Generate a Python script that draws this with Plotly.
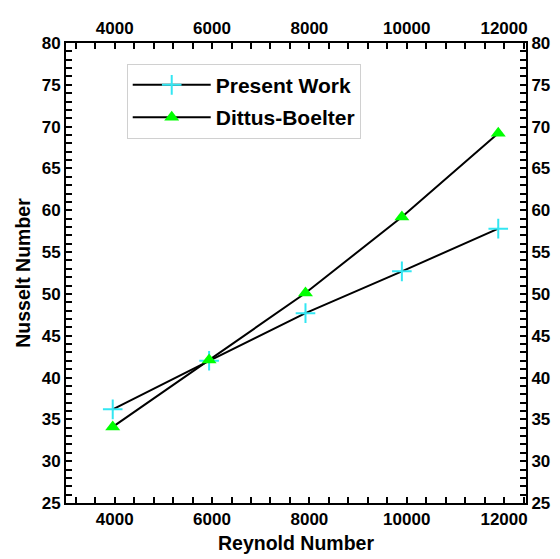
import plotly.graph_objects as go

reynolds_pw = [3960, 5940, 7920, 9900, 11880]
nusselt_pw = [36.2, 42.0, 47.7, 52.7, 57.8]
reynolds_db = [3960, 5940, 7920, 9900, 11880]
nusselt_db = [34.1, 42.1, 50.1, 59.2, 69.2]
x_ticks = [4000, 6000, 8000, 10000, 12000]
y_ticks = [25, 30, 35, 40, 45, 50, 55, 60, 65, 70, 75, 80]

FONT = "Liberation Sans, Arial, sans-serif"

fig = go.Figure()
fig.add_trace(go.Scatter(
    x=reynolds_pw, y=nusselt_pw, name="<b>Present Work</b>", mode="lines+markers",
    line=dict(color="black", width=2), legendgroup="a",
    marker=dict(symbol="cross-thin", size=14, line=dict(color="#33e6f2", width=2), color="#33e6f2"),
))
fig.add_trace(go.Scatter(
    x=reynolds_db, y=nusselt_db, name="<b>Dittus-Boelter</b>", mode="lines+markers",
    line=dict(color="black", width=2), legendgroup="b",
    xaxis="x2", yaxis="y2",
    marker=dict(symbol="triangle-up", size=13, color="#00ff00"),
))

xr = [3000, 12450]
yr = [25, 80]
tf = dict(family=FONT, size=17, color="black", weight="bold")
common = dict(showgrid=False, zeroline=False, showline=True, linecolor="black", linewidth=2,
              ticks="inside", ticklen=6, tickwidth=2, tickcolor="black", tickfont=tf,
              automargin=False)
xminor = dict(dtick=400, tick0=4000, ticks="inside", ticklen=6, tickwidth=2, tickcolor="black")
yminor = dict(dtick=1, tick0=25, ticks="inside", ticklen=6, tickwidth=2, tickcolor="black")

fig.update_layout(
    template="none",
    width=560, height=559,
    margin=dict(l=66, r=34, t=43, b=56, autoexpand=False),
    paper_bgcolor="white", plot_bgcolor="white",
    font=dict(family=FONT, color="black"),
    xaxis=dict(range=xr, tickvals=x_ticks, ticktext=[str(v) for v in x_ticks], minor=xminor,
               title=dict(text="<b>Reynold Number</b>", font=dict(family=FONT, size=19.5), standoff=8),
               **common),
    xaxis2=dict(range=xr, tickvals=x_ticks, ticktext=[str(v) for v in x_ticks], overlaying="x", side="top",
                anchor="y2", minor=xminor, **common),
    yaxis=dict(range=yr, tickvals=y_ticks, ticktext=[str(v) for v in y_ticks], minor=yminor,
               title=dict(text="<b>Nusselt Number</b>", font=dict(family=FONT, size=19.5), standoff=6),
               **common),
    yaxis2=dict(range=yr, tickvals=y_ticks, ticktext=[str(v) for v in y_ticks], overlaying="y", side="right",
                anchor="x2", minor=yminor, **common),
    legend=dict(x=0.132, y=0.955, xanchor="left", yanchor="top", bgcolor="white",
                bordercolor="#d0d0d0", borderwidth=1, tracegroupgap=2, itemwidth=78,
                font=dict(family=FONT, size=21, color="black")),
    showlegend=True,
)
fig.write_html("out.html")
